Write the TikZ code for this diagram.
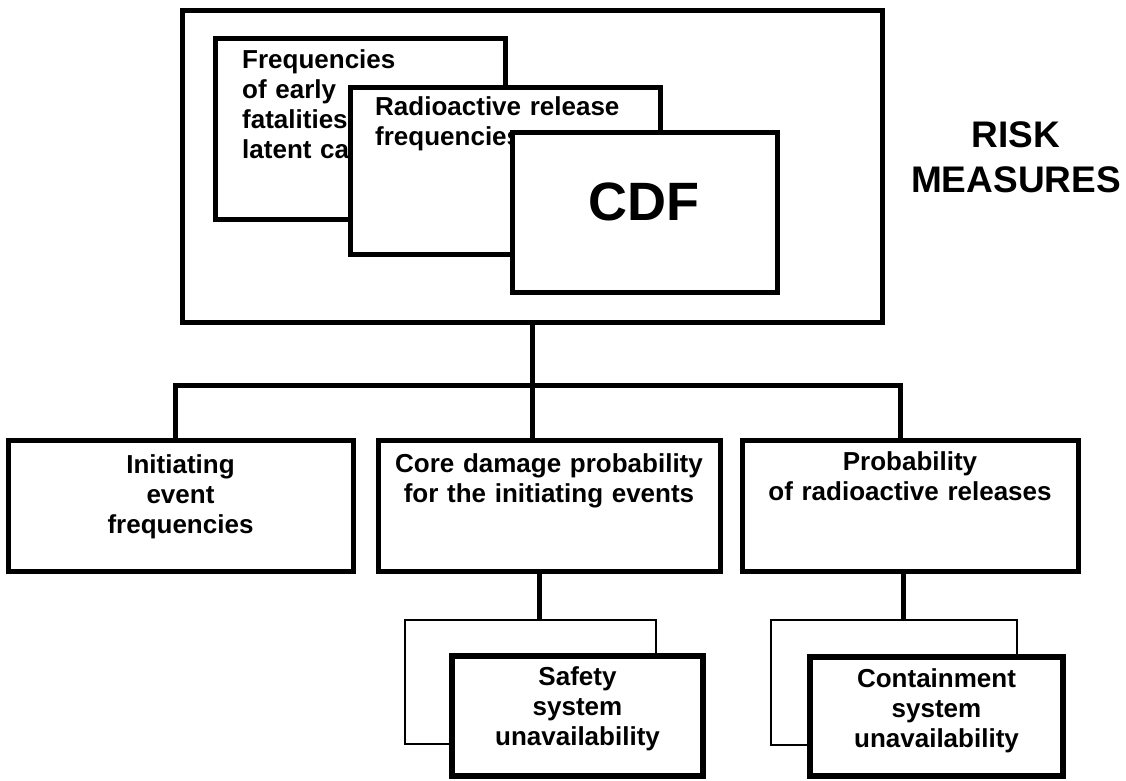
\documentclass[tikz,border=0pt]{standalone}
\usepackage{fontspec}
\setmainfont{Liberation Sans}
\begin{document}
\begin{tikzpicture}[x=1pt,y=-1pt,
  box/.style={draw, line width=5pt, fill=white, rectangle, inner sep=0pt},
  thinbox/.style={draw, line width=2pt, fill=white, rectangle, inner sep=0pt},
  frontbox/.style={draw, line width=5.5pt, fill=white, rectangle, inner sep=0pt},
  wire/.style={line width=5pt},
  lbl/.style={inner sep=0pt, font=\bfseries\fontsize{26}{30}\selectfont},
  ctr/.style={lbl, text width=330pt, align=center, anchor=base},
  lft/.style={lbl, text width=112pt, align=left, anchor=base west}]
\useasboundingbox (0,0) rectangle (1126,780);

% risk measures group: three stacked cards inside the frame
\node[box, minimum width=700pt, minimum height=312pt] (outer) at (532,166) {};
\node[box, minimum width=290pt, minimum height=181pt] (freq) at (360,128.5) {};
\node[lft] (freqtxt) at (242,68) {Frequencies\\of early\\fatalities\\latent ca};
\node[box, minimum width=310pt, minimum height=167pt] (radio) at (505,170.5) {};
\node[lft, text width=250pt] (radiotxt) at (375,115) {Radioactive release\\frequencies};
\node[box, minimum width=265pt, minimum height=160pt] (cdf) at (644.5,212) {};
\node[inner sep=0pt, font=\bfseries\fontsize{54}{60}\selectfont] (cdftxt) at (644,202) {CDF};
\node[lbl, font=\bfseries\fontsize{37}{45}\selectfont, text width=250pt, align=center, anchor=base]
  (risk) at (1016,147) {RISK\\MEASURES};

% second level
\node[box, minimum width=345pt, minimum height=131pt] (A) at (180.5,505.5) {};
\node[ctr] (Atxt) at (180.5,473) {Initiating\\event\\frequencies};
\node[box, minimum width=342pt, minimum height=131pt] (B) at (549,505.5) {};
\node[ctr] (Btxt) at (549,472) {Core damage probability\\for the initiating events};
\node[box, minimum width=336pt, minimum height=131pt] (C) at (910,505.5) {};
\node[ctr] (Ctxt) at (910,470) {Probability\\of radioactive releases};

% third level
\node[thinbox, minimum width=251pt, minimum height=124pt] (sback) at (530.5,682) {};
\node[frontbox, minimum width=251pt, minimum height=120pt] (sfront) at (577.5,716) {};
\node[ctr, text width=240pt] (stxt) at (577.5,685) {Safety\\system\\unavailability};
\node[thinbox, minimum width=246pt, minimum height=125pt] (cback) at (894,682.5) {};
\node[frontbox, minimum width=253pt, minimum height=119pt] (cfront) at (936.5,716.5) {};
\node[ctr, text width=240pt] (ctxt) at (936.5,687) {Containment\\system\\unavailability};

% connectors
\coordinate (busL) at (175,385);
\coordinate (busR) at (900,385);
\coordinate (dB) at (539,0);
\coordinate (dC) at (903,0);
\draw[wire] (outer.south) -- (outer.south |- B.north);
\draw[wire, line cap=rect] (busL) -- (busR);
\draw[wire] (busL) -- (busL |- A.north);
\draw[wire] (busR) -- (busR |- C.north);
\draw[wire] (B.south -| dB) -- (sback.north -| dB);
\draw[wire] (C.south -| dC) -- (cback.north -| dC);
\end{tikzpicture}
\end{document}
